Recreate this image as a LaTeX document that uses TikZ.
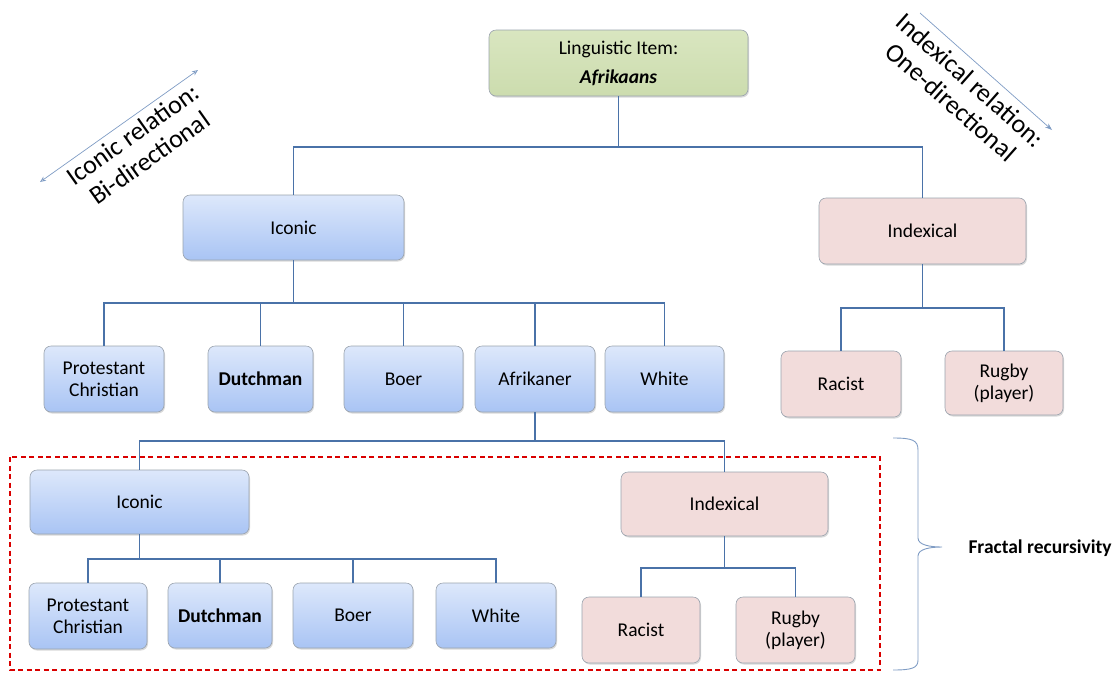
\documentclass[tikz,border=0pt]{standalone}
\usepackage{fontspec}
\setmainfont{Carlito}
\usetikzlibrary{shadows,arrows.meta,calc}
\definecolor{conncol}{HTML}{4A72A8}
\definecolor{bluetop}{HTML}{DDE8FB}
\definecolor{bluebot}{HTML}{A9C4F4}
\definecolor{pinkfill}{HTML}{F2DCDB}
\definecolor{greenfill}{HTML}{D9E6C0}
\definecolor{greenbot}{HTML}{CCDCAE}
\definecolor{boxline}{HTML}{9AA3AE}
\definecolor{relcol}{HTML}{7F9CC4}
\begin{document}
\begin{tikzpicture}[x=1pt,y=-1pt,
  basebox/.style={draw=boxline, line width=0.6pt, rounded corners=7pt, align=center,
    font=\fontsize{19.5}{22}\selectfont, inner sep=0pt,
    drop shadow={opacity=0.3, shadow xshift=1pt, shadow yshift=-1.5pt}},
  iconbox/.style={basebox, top color=bluetop, bottom color=bluebot},
  indexbox/.style={basebox, fill=pinkfill},
  rootbox/.style={basebox, top color=greenfill, bottom color=greenbot},
  conn/.style={draw=conncol, line width=1.9pt},
  reltext/.style={font=\fontsize{26}{29}\selectfont, align=center},
  relline/.style={draw=relcol, line width=0.7pt}]
\useasboundingbox (0,0) rectangle (1119,673);

% root
\node[rootbox, minimum width=259pt, minimum height=66pt] (root) at (618.5,63) {Linguistic Item:\\[7pt]\textbf{\textit{Afrikaans}}};

% level 1
\node[iconbox, minimum width=221pt, minimum height=65pt] (ic) at (293.5,227.5) {Iconic};
\node[indexbox, minimum width=207pt, minimum height=66pt] (ix) at (922.5,231) {Indexical};

% level 2 iconic children
\node[iconbox, minimum width=120pt, minimum height=66pt] (pc) at (104,379) {Protestant\\Christian};
\node[iconbox, minimum width=105pt, minimum height=66pt] (du) at (260.5,379) {\textbf{Dutchman}};
\node[iconbox, minimum width=119pt, minimum height=66pt] (bo) at (403.5,379) {Boer};
\node[iconbox, minimum width=120pt, minimum height=66pt] (af) at (535,379) {Afrikaner};
\node[iconbox, minimum width=119pt, minimum height=66pt] (wh) at (664.5,379) {White};

% level 2 indexical children
\node[indexbox, minimum width=120pt, minimum height=66pt] (ra) at (841,384) {Racist};
\node[indexbox, minimum width=118pt, minimum height=64pt] (ru) at (1004,383) {Rugby\\(player)};

% recursive level
\node[iconbox, minimum width=219pt, minimum height=64pt] (ic2) at (139.5,502) {Iconic};
\node[indexbox, minimum width=207pt, minimum height=64pt] (ix2) at (724.5,504) {Indexical};

\node[iconbox, minimum width=118pt, minimum height=66pt] (pc2) at (88,616) {Protestant\\Christian};
\node[iconbox, minimum width=104pt, minimum height=65pt] (du2) at (220,615.5) {\textbf{Dutchman}};
\node[iconbox, minimum width=120pt, minimum height=65pt] (bo2) at (353,615.5) {Boer};
\node[iconbox, minimum width=120pt, minimum height=65pt] (wh2) at (496,615.5) {White};

\node[indexbox, minimum width=118pt, minimum height=66pt] (ra2) at (641,630) {Racist};
\node[indexbox, minimum width=119pt, minimum height=66pt] (ru2) at (795.5,630) {Rugby\\(player)};

% connectors
\coordinate (b0) at ($(root.south)+(0,51)$);
\draw[conn] (root.south) -- (b0) -| (ic.north);
\draw[conn] (b0) -| (ix.north);

\coordinate (b1) at ($(ic.south)+(0,43)$);
\draw[conn] (ic.south) -- (b1) -| (pc.north);
\draw[conn] (b1) -| (du.north);
\draw[conn] (b1) -| (bo.north);
\draw[conn] (b1) -| (af.north);
\draw[conn] (b1) -| (wh.north);

\coordinate (b2) at ($(ix.south)+(0,44)$);
\draw[conn] (ix.south) -- (b2) -| (ra.north);
\draw[conn] (b2) -| (ru.north);

\coordinate (b3) at ($(af.south)+(0,29)$);
\draw[conn] (af.south) -- (b3) -| (ic2.north);
\draw[conn] (b3) -| (ix2.north);

\coordinate (b4) at ($(ic2.south)+(0,25)$);
\draw[conn] (ic2.south) -- (b4) -| (pc2.north);
\draw[conn] (b4) -| (du2.north);
\draw[conn] (b4) -| (bo2.north);
\draw[conn] (b4) -| (wh2.north);

\coordinate (b5) at ($(ix2.south)+(0,32)$);
\draw[conn] (ix2.south) -- (b5) -| (ra2.north);
\draw[conn] (b5) -| (ru2.north);

% dashed frame
\draw[red!85!black, line width=1.2pt, dash pattern=on 5pt off 3.5pt] (10,457) rectangle (880,670);

% brace
\draw[relline, line width=0.9pt] (893,438) .. controls (912,438) and (918,440) .. (918,450)
  -- (918,538) .. controls (918,545) and (930,547) .. (942,547)
  .. controls (930,547) and (918,549) .. (918,556)
  -- (918,660) .. controls (918,668) and (912,670) .. (893,670);
\node[font=\fontsize{19.5}{22}\selectfont\bfseries, anchor=west] (fr) at (965,548) {Fractal recursivity};

% relation labels
\coordinate (ia1) at (40,182);
\coordinate (ia2) at (198,70);
\draw[relline, {Stealth[length=6pt,width=5pt,open]}-{Stealth[length=6pt,width=5pt,open]}] (ia1) -- (ia2);
\node[reltext, rotate=35.3] (irel) at (141,146) {Iconic relation:\\Bi-directional};

\coordinate (xa1) at (920,13);
\coordinate (xa2) at (1052,130);
\draw[relline, -{Stealth[length=7pt,width=5pt]}] (xa1) -- (xa2);
\node[reltext, rotate=-41.5] (xrel) at (961,91) {Indexical relation:\\One-directional};
\end{tikzpicture}
\end{document}
